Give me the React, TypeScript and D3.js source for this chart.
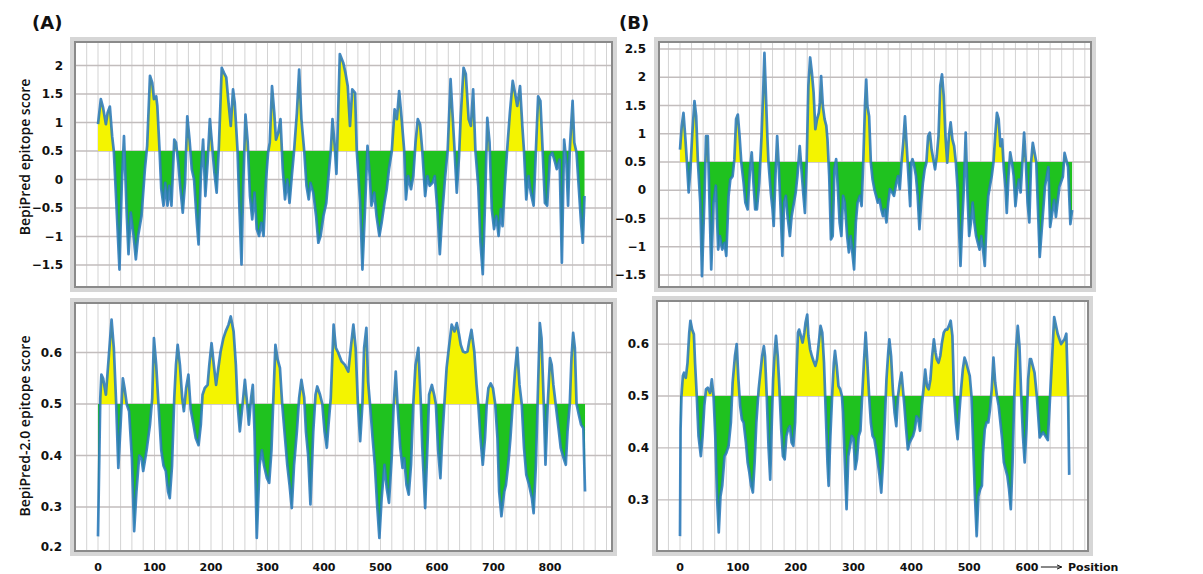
import React from "react";
import * as d3 from "d3";

// Residue position vs. epitope score, read as [position, score]
const bepipredA: [number, number][] = [
  [0, 0.97], [5, 1.41], [9, 1.26], [14, 0.97], [17, 1.17], [21, 1.28], [25, 0.76], [28, 0.5],
  [33, -0.52], [38, -1.58], [42, -0.11], [46, 0.76], [51, -0.64], [54, -1.31], [58, -0.58],
  [63, -0.99], [67, -1.4], [71, -0.99], [77, -0.64], [83, 0.18], [87, 0.59], [92, 1.82],
  [96, 1.7], [99, 1.41], [103, 1.46], [105, 1.29], [109, 0.5], [112, -0.17], [116, -0.46],
  [119, -0.06], [123, -0.46], [126, -0.11], [130, -0.46], [135, 0.7], [138, 0.65], [142, 0.3],
  [146, -0.17], [150, -0.58], [154, -0.06], [158, 1.11], [162, 0.7], [166, 0.18], [170, 0.0],
  [175, -0.76], [178, -1.14], [182, 0.06], [186, 0.7], [190, -0.29], [194, 0.3], [198, 1.06],
  [202, 0.59], [206, 0.12], [210, -0.23], [214, 0.59], [219, 1.96], [223, 1.87], [227, 1.79],
  [231, 1.35], [235, 0.94], [239, 1.58], [242, 1.35], [247, 0.5], [250, -0.41], [254, -1.49],
  [257, -0.11], [261, 1.14], [265, 0.65], [269, -0.29], [273, -0.7], [277, -0.23], [281, -0.87],
  [285, -0.99], [289, -0.76], [293, -0.99], [297, -0.06], [301, 0.47], [304, 0.65], [308, 1.64],
  [312, 1.17], [315, 0.7], [319, 0.82], [323, 1.06], [327, 0.18], [331, -0.35], [335, 0.0],
  [339, -0.41], [343, 0.06], [347, 0.5], [352, 1.17], [356, 1.93], [360, 1.06], [365, 0.5],
  [369, -0.11], [373, -0.35], [376, -0.06], [381, -0.23], [386, -0.64], [390, -1.11],
  [394, -0.99], [399, -0.64], [404, -0.41], [408, 0.06], [412, 0.5], [415, 1.06], [419, 0.59],
  [422, 0.1], [428, 2.2], [434, 2.05], [438, 1.87], [442, 1.64], [446, 0.94], [450, 1.58],
  [455, 1.52], [458, 0.5], [464, -0.41], [468, -1.58], [473, -0.41], [477, 0.59], [481, 0.06],
  [484, -0.46], [489, -0.23], [493, -0.64], [498, -0.99], [502, -0.76], [507, -0.41],
  [511, -0.17], [515, 0.18], [520, 0.5], [525, 1.23], [529, 1.06], [533, 1.55], [537, 1.11],
  [542, 0.5], [545, -0.35], [549, 0.06], [554, -0.17], [558, 0.06], [562, 0.65], [566, 1.06],
  [570, 0.97], [574, 0.5], [579, -0.29], [583, 0.06], [587, -0.11], [592, -0.06], [596, 0.06],
  [601, -0.58], [605, -1.31], [609, -0.64], [614, 0.0], [619, 0.53], [624, 1.76], [627, 1.23],
  [631, 0.53], [635, -0.23], [639, 0.41], [642, 1.11], [647, 1.96], [651, 1.85], [656, 1.06],
  [660, 0.94], [664, 1.58], [668, 0.5], [673, -0.11], [677, -1.11], [681, -1.66], [685, -0.41],
  [689, 1.08], [693, 0.65], [697, -0.52], [701, -0.87], [705, -0.64], [709, -0.99],
  [713, -0.52], [716, -0.82], [720, -0.11], [724, 0.5], [729, 1.17], [734, 1.73], [738, 1.52],
  [742, 1.29], [747, 1.64], [751, 0.94], [754, 0.5], [758, -0.35], [762, 0.06], [766, -0.23],
  [771, -0.46], [775, 0.5], [779, 1.46], [783, 1.38], [787, 0.5], [791, -0.41], [795, -0.46],
  [800, 0.41], [804, 0.47], [809, 0.3], [812, 0.18], [817, 0.35], [821, -1.46], [825, 0.7],
  [829, 0.3], [832, -0.46], [835, 0.53], [840, 1.38], [843, 0.65], [847, 0.47], [850, 0.0],
  [855, -0.76], [858, -1.11], [861, -0.29],
];

const bepipred2A: [number, number][] = [
  [0, 0.243], [4, 0.51], [6, 0.557], [9, 0.55], [14, 0.518], [18, 0.576], [24, 0.664],
  [28, 0.609], [32, 0.505], [36, 0.376], [40, 0.46], [44, 0.55], [47, 0.531], [51, 0.499],
  [55, 0.486], [60, 0.395], [64, 0.253], [68, 0.33], [73, 0.4], [77, 0.395], [80, 0.37],
  [86, 0.41], [92, 0.46], [96, 0.512], [99, 0.628], [103, 0.576], [107, 0.5], [112, 0.41],
  [116, 0.38], [120, 0.37], [124, 0.33], [127, 0.317], [131, 0.38], [135, 0.512], [138, 0.576],
  [141, 0.615], [145, 0.576], [149, 0.512], [152, 0.486], [156, 0.531], [160, 0.557],
  [164, 0.49], [169, 0.46], [173, 0.434], [178, 0.42], [182, 0.46], [185, 0.518], [189, 0.531],
  [194, 0.537], [197, 0.576], [201, 0.618], [205, 0.576], [209, 0.537], [213, 0.57],
  [217, 0.602], [222, 0.628], [226, 0.641], [231, 0.654], [235, 0.67], [240, 0.641],
  [244, 0.576], [247, 0.5], [251, 0.447], [256, 0.5], [260, 0.547], [263, 0.512], [267, 0.46],
  [271, 0.512], [274, 0.537], [277, 0.447], [281, 0.24], [286, 0.382], [290, 0.41], [294, 0.38],
  [299, 0.356], [303, 0.347], [307, 0.41], [310, 0.5], [314, 0.615], [318, 0.586], [322, 0.57],
  [326, 0.5], [331, 0.434], [335, 0.382], [339, 0.343], [343, 0.298], [347, 0.382],
  [352, 0.447], [356, 0.512], [360, 0.547], [365, 0.512], [368, 0.447], [372, 0.4],
  [376, 0.305], [381, 0.447], [385, 0.518], [388, 0.534], [393, 0.518], [397, 0.5],
  [401, 0.447], [405, 0.415], [408, 0.46], [412, 0.512], [417, 0.654], [421, 0.609], [425, 0.6],
  [431, 0.583], [437, 0.576], [443, 0.563], [448, 0.615], [452, 0.654], [456, 0.609], [460, 0.5],
  [464, 0.428], [468, 0.5], [471, 0.609], [475, 0.648], [478, 0.544], [482, 0.492],
  [486, 0.434], [490, 0.382], [494, 0.305], [498, 0.24], [502, 0.317], [507, 0.382],
  [511, 0.337], [515, 0.308], [520, 0.4], [523, 0.49], [527, 0.563], [530, 0.5], [535, 0.415],
  [539, 0.376], [542, 0.395], [546, 0.343], [550, 0.324], [554, 0.382], [558, 0.5],
  [562, 0.576], [567, 0.609], [571, 0.512], [574, 0.415], [579, 0.298], [584, 0.447],
  [586, 0.518], [591, 0.537], [595, 0.518], [598, 0.5], [602, 0.41], [606, 0.356], [609, 0.428],
  [613, 0.5], [617, 0.57], [621, 0.609], [626, 0.654], [631, 0.641], [635, 0.657], [639, 0.635],
  [642, 0.615], [646, 0.602], [650, 0.6], [654, 0.602], [657, 0.622], [661, 0.644], [666, 0.602],
  [670, 0.537], [673, 0.5], [677, 0.434], [681, 0.382], [685, 0.434], [688, 0.5], [691, 0.531],
  [695, 0.54], [699, 0.531], [703, 0.5], [707, 0.434], [710, 0.33], [714, 0.282], [719, 0.33],
  [722, 0.343], [726, 0.382], [730, 0.434], [734, 0.5], [738, 0.563], [742, 0.609],
  [746, 0.537], [750, 0.5], [754, 0.415], [758, 0.363], [763, 0.343], [768, 0.317],
  [771, 0.288], [775, 0.382], [778, 0.5], [782, 0.657], [785, 0.628], [789, 0.5], [792, 0.382],
  [796, 0.5], [800, 0.589], [803, 0.576], [806, 0.537], [810, 0.5], [815, 0.453], [819, 0.415],
  [824, 0.395], [828, 0.382], [831, 0.447], [835, 0.5], [838, 0.589], [841, 0.638],
  [844, 0.609], [847, 0.5], [851, 0.479], [855, 0.46], [859, 0.453], [862, 0.33],
];

const bepipredB: [number, number][] = [
  [0, 0.72], [3, 1.14], [6, 1.37], [9, 0.96], [12, 0.49], [15, -0.04], [18, 0.37], [21, 0.96],
  [25, 1.58], [28, 1.31], [31, 0.49], [35, -0.22], [38, -1.52], [42, -0.22], [45, 0.96],
  [48, 0.96], [51, -0.22], [54, -1.4], [58, -0.22], [62, 0.08], [66, -1.05], [69, -0.81],
  [73, -1.05], [77, -0.93], [80, -1.16], [84, -0.1], [87, 0.19], [91, 0.25], [94, 0.55],
  [97, 1.26], [100, 1.34], [103, 0.96], [106, 0.49], [110, 0.13], [113, -0.22], [117, -0.34],
  [121, 0.37], [124, 0.67], [127, 0.13], [130, -0.34], [133, -0.34], [137, 0.13], [141, 0.96],
  [144, 1.79], [146, 2.43], [148, 1.85], [151, 0.96], [153, 0.49], [157, -0.04], [160, -0.34],
  [162, -0.63], [165, 0.25], [168, 0.96], [171, 0.37], [174, -0.34], [177, -1.16], [180, -0.22],
  [183, -0.1], [186, -0.46], [190, -0.81], [193, -0.46], [197, -0.22], [200, -0.04], [203, 0.25],
  [207, 0.78], [210, 0.37], [213, -0.04], [216, -0.4], [219, 0.49], [222, 1.85], [225, 2.35],
  [228, 2.08], [231, 1.73], [234, 1.08], [237, 1.26], [240, 1.37], [242, 1.55], [244, 2.02],
  [247, 1.49], [250, 1.26], [253, 1.14], [255, 0.9], [258, 0.25], [261, -0.87], [264, -0.81],
  [267, 0.37], [270, 0.55], [273, 0.02], [276, -0.57], [279, -0.81], [282, -0.1], [285, -0.22],
  [289, -0.81], [292, -1.1], [295, -0.81], [298, -1.1], [301, -1.4], [304, -0.57], [307, -0.22],
  [311, -0.1], [314, -0.28], [317, 0.55], [320, 1.55], [322, 1.96], [324, 1.49], [327, 1.31],
  [330, 0.49], [333, 0.19], [336, 0.02], [339, -0.1], [342, -0.22], [345, -0.16], [348, -0.34],
  [351, -0.46], [354, -0.34], [357, -0.57], [360, -0.22], [363, 0.02], [367, -0.04], [370, -0.1],
  [374, 0.13], [377, 0.25], [380, 0.02], [383, 0.49], [386, 0.84], [389, 1.31], [392, 0.78],
  [395, 0.25], [398, -0.28], [400, 0.49], [402, 0.55], [405, 0.43], [408, 0.25], [411, -0.1],
  [414, -0.69], [417, -0.22], [420, 0.13], [423, 0.37], [426, 0.49], [429, 0.96], [432, 1.02],
  [435, 0.72], [438, 0.55], [441, 0.37], [444, 0.61], [447, 0.96], [450, 1.85], [453, 2.05],
  [456, 1.67], [459, 0.96], [462, 0.49], [465, 0.96], [468, 1.2], [471, 0.9], [474, 0.78],
  [477, 0.49], [480, 0.02], [482, -0.57], [485, -1.34], [488, -0.57], [491, 0.08], [494, 1.02],
  [497, -0.04], [500, -0.81], [503, -0.57], [506, -0.22], [509, -0.57], [512, -0.81],
  [515, -0.93], [518, -1.05], [521, -0.81], [524, -1.05], [527, -1.34], [530, -0.57],
  [533, -0.1], [536, 0.08], [539, 0.25], [542, 0.49], [545, 0.96], [548, 1.37], [551, 1.26],
  [554, 0.78], [557, 0.9], [560, 0.37], [563, 0.02], [565, -0.4], [568, 0.25], [571, 0.67],
  [574, 0.49], [577, 0.25], [580, -0.28], [583, 0.02], [586, 0.19], [589, -0.04], [592, 0.49],
  [595, 1.02], [598, 0.49], [601, -0.22], [604, -0.57], [607, 0.49], [610, 0.84], [616, 0.5],
  [622, -1.18], [631, 0.06], [637, 0.41], [640, -0.65], [647, -0.17], [650, -0.47], [656, 0.06],
  [662, 0.24], [665, 0.66], [671, 0.41], [675, -0.6], [678, -0.35],
];

const bepipred2B: [number, number][] = [
  [0, 0.23], [1, 0.436], [2.5, 0.5], [5, 0.539], [7, 0.545], [10, 0.535], [13, 0.564],
  [16, 0.622], [18, 0.645], [21, 0.628], [24, 0.619], [26, 0.564], [29, 0.5], [32, 0.423],
  [36, 0.384], [39, 0.423], [42, 0.481], [45, 0.513], [48, 0.516], [52, 0.506], [55, 0.532],
  [58, 0.5], [61, 0.423], [64, 0.307], [67, 0.237], [70, 0.307], [73, 0.327], [77, 0.384],
  [80, 0.39], [84, 0.404], [88, 0.449], [91, 0.526], [95, 0.577], [98, 0.6], [101, 0.532],
  [104, 0.481], [107, 0.455], [110, 0.449], [114, 0.41], [117, 0.372], [120, 0.352],
  [123, 0.327], [126, 0.314], [129, 0.372], [132, 0.449], [136, 0.513], [139, 0.545],
  [142, 0.577], [145, 0.596], [147, 0.577], [150, 0.5], [153, 0.404], [156, 0.339], [158, 0.423],
  [161, 0.532], [164, 0.59], [166, 0.616], [169, 0.577], [172, 0.513], [175, 0.436],
  [178, 0.384], [181, 0.378], [184, 0.423], [187, 0.436], [190, 0.442], [193, 0.41],
  [196, 0.404], [199, 0.449], [201, 0.532], [204, 0.622], [206, 0.628], [209, 0.616],
  [212, 0.603], [215, 0.622], [217, 0.641], [220, 0.657], [222, 0.616], [225, 0.59],
  [228, 0.577], [231, 0.567], [234, 0.558], [237, 0.571], [240, 0.603], [243, 0.635],
  [246, 0.622], [249, 0.564], [252, 0.468], [255, 0.372], [257, 0.327], [260, 0.423], [263, 0.5],
  [266, 0.564], [268, 0.587], [271, 0.558], [274, 0.519], [277, 0.513], [280, 0.5], [282, 0.468],
  [285, 0.372], [288, 0.282], [291, 0.384], [294, 0.404], [297, 0.423], [300, 0.417],
  [303, 0.359], [306, 0.378], [309, 0.423], [312, 0.433], [315, 0.5], [318, 0.564], [321, 0.622],
  [324, 0.564], [327, 0.5], [330, 0.449], [333, 0.423], [336, 0.417], [339, 0.397], [342, 0.372],
  [345, 0.346], [348, 0.314], [351, 0.372], [354, 0.449], [357, 0.532], [360, 0.583],
  [362, 0.609], [365, 0.577], [368, 0.513], [371, 0.468], [374, 0.442], [377, 0.5], [380, 0.526],
  [383, 0.545], [385, 0.519], [388, 0.481], [391, 0.436], [394, 0.397], [397, 0.41], [400, 0.417],
  [403, 0.423], [406, 0.436], [409, 0.461], [412, 0.455], [415, 0.433], [418, 0.481],
  [421, 0.513], [424, 0.551], [427, 0.519], [430, 0.513], [433, 0.532], [436, 0.577],
  [439, 0.609], [442, 0.583], [444, 0.571], [447, 0.564], [450, 0.577], [453, 0.603],
  [456, 0.622], [459, 0.628], [462, 0.628], [465, 0.635], [468, 0.645], [471, 0.616], [474, 0.5],
  [477, 0.449], [480, 0.417], [483, 0.468], [486, 0.513], [489, 0.551], [492, 0.574],
  [495, 0.564], [498, 0.551], [501, 0.539], [504, 0.5], [507, 0.404], [510, 0.307], [513, 0.23],
  [516, 0.307], [519, 0.32], [522, 0.327], [524, 0.391], [527, 0.436], [530, 0.449],
  [533, 0.449], [536, 0.474], [539, 0.513], [542, 0.574], [545, 0.526], [548, 0.5], [551, 0.481],
  [554, 0.449], [557, 0.417], [560, 0.372], [563, 0.359], [566, 0.346], [569, 0.32], [572, 0.282],
  [575, 0.372], [578, 0.5], [581, 0.59], [584, 0.635], [587, 0.596], [590, 0.5], [593, 0.423],
  [596, 0.372], [599, 0.436], [602, 0.532], [605, 0.571], [607, 0.571], [610, 0.558],
  [613, 0.545], [617, 0.5], [622, 0.42], [628, 0.43], [636, 0.415], [647, 0.652], [653, 0.62],
  [659, 0.6], [665, 0.61], [668, 0.62], [671, 0.5], [673, 0.348],
];

// Axis ticks
const yTicksBepi = [-1.5, -1, -0.5, 0, 0.5, 1, 1.5, 2];
const yTicksBepiB = [-1.5, -1, -0.5, 0, 0.5, 1, 1.5, 2, 2.5];
const yTicksBepi2A = [0.2, 0.3, 0.4, 0.5, 0.6];
const yTicksBepi2B = [0.3, 0.4, 0.5, 0.6];
const xTicksA = [0, 100, 200, 300, 400, 500, 600, 700, 800];
const xTicksB = [0, 100, 200, 300, 400, 500, 600];

const THRESHOLD = 0.5;
const GRID_STEP = 20;

const COLORS = {
  above: "#f4f400",
  below: "#1fc21f",
  line: "#2a79bb",
  grid: "#d3d3d3",
  hgrid: "#c2bdbd",
  frameDark: "#8a8a8a",
  frameLight: "#d6d6d6",
  text: "#111",
};

const TICK_FONT = "'DejaVu Sans', Verdana, sans-serif";

type Frame = { x0: number; x1: number; y0: number; y1: number };

type PanelProps = {
  id: string;
  data: [number, number][];
  x: d3.ScaleLinear<number, number>;
  y: d3.ScaleLinear<number, number>;
  frame: Frame;
  yTicks: number[];
  labelRight: number;
};

function Panel({ id, data, x, y, frame, yTicks, labelRight }: PanelProps) {
  const base = y(THRESHOLD);
  const area = d3
    .area<[number, number]>()
    .x((d) => x(d[0]))
    .y0(base)
    .y1((d) => y(d[1]));
  const line = d3
    .line<[number, number]>()
    .x((d) => x(d[0]))
    .y((d) => y(d[1]));

  const gx = d3
    .range(-60, 1000, GRID_STEP)
    .filter((p) => x(p) > frame.x0 + 1.5 && x(p) < frame.x1 - 1.5);
  const gy = yTicks.filter((t) => y(t) > frame.y0 + 1 && y(t) < frame.y1 - 1);
  const fmt = d3.format("");

  return (
    <g>
      <defs>
        <clipPath id={`${id}-up`}>
          <rect x={frame.x0} y={frame.y0} width={frame.x1 - frame.x0} height={base - frame.y0} />
        </clipPath>
        <clipPath id={`${id}-down`}>
          <rect x={frame.x0} y={base} width={frame.x1 - frame.x0} height={frame.y1 - base} />
        </clipPath>
      </defs>
      <rect
        x={frame.x0}
        y={frame.y0}
        width={frame.x1 - frame.x0}
        height={frame.y1 - frame.y0}
        fill="#fff"
      />
      {gx.map((p) => (
        <line
          key={`gx${p}`}
          x1={x(p)}
          x2={x(p)}
          y1={frame.y0}
          y2={frame.y1}
          stroke={COLORS.grid}
          strokeWidth={1}
        />
      ))}
      {gy.map((t) => (
        <line
          key={`gy${t}`}
          x1={frame.x0 - 4}
          x2={frame.x1}
          y1={y(t)}
          y2={y(t)}
          stroke={COLORS.hgrid}
          strokeWidth={1.3}
        />
      ))}
      <path d={area(data) ?? ""} fill={COLORS.above} clipPath={`url(#${id}-up)`} />
      <path d={area(data) ?? ""} fill={COLORS.below} clipPath={`url(#${id}-down)`} />
      <path
        d={line(data) ?? ""}
        fill="none"
        stroke={COLORS.line}
        strokeOpacity={0.88}
        strokeWidth={2.7}
        strokeLinejoin="round"
      />
      <rect
        x={frame.x0 - 3}
        y={frame.y0 - 3}
        width={frame.x1 - frame.x0 + 6}
        height={frame.y1 - frame.y0 + 6}
        fill="none"
        stroke={COLORS.frameLight}
        strokeWidth={4}
      />
      <rect
        x={frame.x0}
        y={frame.y0}
        width={frame.x1 - frame.x0}
        height={frame.y1 - frame.y0}
        fill="none"
        stroke={COLORS.frameDark}
        strokeWidth={2}
      />
      {yTicks.map((t) => (
        <text
          key={`yl${t}`}
          x={labelRight}
          y={Math.min(Math.max(y(t), frame.y0 + 6), frame.y1 - 4)}
          textAnchor="end"
          dominantBaseline="central"
          fontFamily={TICK_FONT}
          fontWeight="bold"
          fontSize={12}
          fill={COLORS.text}
        >
          {fmt(t)}
        </text>
      ))}
    </g>
  );
}

export default function App() {
  const xA = d3.scaleLinear().domain([0, 800]).range([98, 550]);
  const xB = d3.scaleLinear().domain([0, 600]).range([680, 1027]);

  const yTopA = d3.scaleLinear().domain([0.5, 2]).range([151, 65.5]);
  const yTopB = d3.scaleLinear().domain([0.5, 2.5]).range([162, 49]);
  const yBotA = d3.scaleLinear().domain([0.5, 0.6]).range([404, 352.5]);
  const yBotB = d3.scaleLinear().domain([0.5, 0.6]).range([396, 344.1]);

  const frameTopA: Frame = { x0: 75, x1: 612, y0: 42, y1: 287 };
  const frameTopB: Frame = { x0: 659, x1: 1091, y0: 42, y1: 287 };
  const frameBotA: Frame = { x0: 75, x1: 612, y0: 303, y1: 551 };
  const frameBotB: Frame = { x0: 657, x1: 1088, y0: 301, y1: 551 };

  const axisBaseline = 571;
  const titleFont = "'Open Sans', 'Noto Sans', sans-serif";

  return (
    <svg
      width={1203}
      height={574}
      viewBox="0 0 1203 574"
      style={{ position: "absolute", left: 0, top: 0, background: "#fff" }}
    >
      <rect x={0} y={0} width={1203} height={574} fill="#fff" />

      <text x={32} y={29} fontFamily={TICK_FONT} fontWeight="bold" fontSize={18} fill={COLORS.text}>
        (A)
      </text>
      <text x={619} y={29} fontFamily={TICK_FONT} fontWeight="bold" fontSize={18} fill={COLORS.text}>
        (B)
      </text>

      <Panel id="ta" data={bepipredA} x={xA} y={yTopA} frame={frameTopA} yTicks={yTicksBepi} labelRight={63} />
      <Panel id="tb" data={bepipredB} x={xB} y={yTopB} frame={frameTopB} yTicks={yTicksBepiB} labelRight={646} />
      <Panel id="ba" data={bepipred2A} x={xA} y={yBotA} frame={frameBotA} yTicks={yTicksBepi2A} labelRight={62} />
      <Panel id="bb" data={bepipred2B} x={xB} y={yBotB} frame={frameBotB} yTicks={yTicksBepi2B} labelRight={649} />

      <text
        transform="translate(30,157) rotate(-90)"
        textAnchor="middle"
        fontFamily={titleFont}
        fontWeight={600}
        fontSize={14}
        fill={COLORS.text}
      >
        BepiPred epitope score
      </text>
      <text
        transform="translate(30,426) rotate(-90)"
        textAnchor="middle"
        fontFamily={titleFont}
        fontWeight={600}
        fontSize={14}
        fill={COLORS.text}
      >
        BepiPred-2.0 epitope score
      </text>

      {xTicksA.map((t) => (
        <text
          key={`xa${t}`}
          x={xA(t)}
          y={axisBaseline}
          textAnchor="middle"
          fontFamily={TICK_FONT}
          fontWeight="bold"
          fontSize={11}
          fill={COLORS.text}
        >
          {t}
        </text>
      ))}
      {xTicksB.map((t) => (
        <text
          key={`xb${t}`}
          x={xB(t)}
          y={axisBaseline}
          textAnchor="middle"
          fontFamily={TICK_FONT}
          fontWeight="bold"
          fontSize={11}
          fill={COLORS.text}
        >
          {t}
        </text>
      ))}

      <defs>
        <marker id="arrowhead" markerWidth={6} markerHeight={6} refX={5} refY={3} orient="auto">
          <path d="M0,0.8 L5,3 L0,5.2" fill="none" stroke={COLORS.text} strokeWidth={1} />
        </marker>
      </defs>
      <line
        x1={xB(624)}
        x2={xB(660)}
        y1={axisBaseline - 4}
        y2={axisBaseline - 4}
        stroke={COLORS.text}
        strokeWidth={1}
        markerEnd="url(#arrowhead)"
      />
      <text
        x={xB(671)}
        y={axisBaseline}
        fontFamily={TICK_FONT}
        fontWeight="bold"
        fontSize={11}
        fill={COLORS.text}
      >
        Position
      </text>
    </svg>
  );
}
